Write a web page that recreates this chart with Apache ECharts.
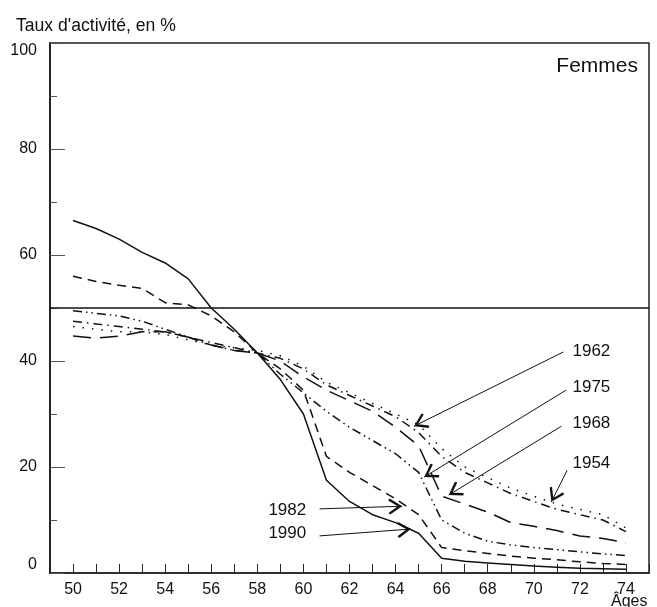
<!DOCTYPE html>
<html>
<head>
<meta charset="utf-8">
<script src="https://cdn.jsdelivr.net/npm/echarts@6/dist/echarts.min.js"></script>
<style>
html,body{margin:0;padding:0;background:#fff;}
#chart{width:657px;height:607px;}
</style>
</head>
<body>
<div id="chart"></div>
<script>
// ---- data ----
var ages = [50,51,52,53,54,55,56,57,58,59,60,61,62,63,64,65,66,67,68,69,70,71,72,73,74];
var y1954 = [46.5,46,45.5,45.5,45,44,43,42.5,42,41,39,36,34,32,30,28,23.5,20,18,16,14.5,13,12,11,8.5];
var y1962 = [47.5,47,46.5,46,45.5,44.5,43.5,42.5,41.5,40.5,38.5,35.5,33.5,31.5,29.5,26.5,22,19,17,15,13.5,12,11,10,7.8];
var y1968 = [44.7,44.3,44.7,45.5,45.5,44.5,43,42,41.5,40,37,34.5,32.5,30.5,27.5,24,14.5,13,11.5,9.5,8.8,8,7,6.5,5.7];
var y1975 = [49.5,49,48.5,47.5,46,44.5,43,42,41.5,37.5,34,30.5,27.5,25,22.5,19,10,7.5,6,5.3,4.8,4.4,4,3.6,3.3];
var y1982 = [56,55,54.3,53.7,51,50.6,48.5,45.5,41.5,38.5,34.5,22,19,16.5,14,11,4.8,4.2,3.7,3.2,2.8,2.5,2.1,1.8,1.6];
var y1990 = [66.5,65,63,60.5,58.5,55.5,50,46,41.5,36.5,30,17.5,13.5,11,9.5,7.5,2.8,2.2,1.9,1.6,1.3,1.1,0.9,0.8,0.7];
var referenceLine = 50;
var xTicks = [50,52,54,56,58,60,62,64,66,68,70,72,74];
var yTicks = [0,20,40,60,80,100];
// annotation labels, text anchor (age, %), arrow start and arrow tip (age, %)
var annoNames = ['1962','1975','1968','1954','1982','1990'];
var annoText  = [[72.5,41.9],[72.5,35.1],[72.5,28.3],[72.5,20.75],[59.3,11.9],[59.3,7.5]];
var annoFrom  = [[71.28,41.7],[71.4,34.5],[71.2,27.7],[71.45,19.4],[60.7,12.1],[60.7,7.0]];
var annoTo    = [[64.8,27.7],[65.24,18.1],[66.3,14.7],[70.76,13.4],[64.29,12.6],[64.67,8.3]];

var FONT = '"Liberation Sans", Arial, Helvetica, sans-serif';
var INK = '#111';

function pairs(ys){ return ages.map(function(a,i){ return [a, ys[i]]; }); }

var seriesDefs = [
  {name:'1954', data:y1954, type:[1.5,8]},
  {name:'1962', data:y1962, type:[9,5,1.5,5]},
  {name:'1968', data:y1968, type:[18,9]},
  {name:'1975', data:y1975, type:[9,4,1.5,4,1.5,4]},
  {name:'1982', data:y1982, type:[9,6]},
  {name:'1990', data:y1990, type:'solid'}
];

var chevron = 'path://M5,-10 L5,-10 M5,0 L10,8.6 L8.9,9.8 L5,3.0 L1.1,9.8 L0,8.6 Z';

var series = seriesDefs.map(function(s){
  return {
    name:s.name, type:'line', data:pairs(s.data), showSymbol:false, symbol:'none',
    silent:true, animation:false,
    lineStyle:{color:INK, width:1.5, type:s.type}
  };
});

series[0].markLine = {
  silent:true, symbol:['none','none'], label:{show:false},
  lineStyle:{color:INK, width:1.5, type:'solid'},
  data:[{yAxis:referenceLine}]
};

series.push({
  type:'line', data:[], silent:true, animation:false,
  markLine:{
    silent:true, animation:false,
    symbol:['none', chevron], symbolSize:[16,28],
    label:{show:false},
    itemStyle:{color:INK},
    lineStyle:{color:INK, width:1, type:'solid'},
    data: annoNames.map(function(n,i){ return [{coord:annoFrom[i]},{coord:annoTo[i]}]; })
  }
});

var chart = echarts.init(document.getElementById('chart'), null, {renderer:'canvas'});
chart.setOption({
  animation:false,
  backgroundColor:'#fff',
  title:[
    {text:"Taux d'activité, en %", left:11, top:12, textStyle:{fontSize:17.6, fontWeight:'normal', color:INK, fontFamily:FONT}},
    {text:'Femmes', right:14, top:51, textStyle:{fontSize:21, fontWeight:'normal', color:INK, fontFamily:FONT}},
    {text:'Âges', left:606, top:589, textStyle:{fontSize:16, fontWeight:'normal', color:INK, fontFamily:FONT}}
  ],
  grid:{left:50, right:8, top:43, bottom:34, show:true, borderColor:'#222', borderWidth:1.5, backgroundColor:'transparent'},
  xAxis:{
    type:'value', min:49, max:75, interval:1,
    axisLine:{show:true, onZero:false, lineStyle:{color:'#222', width:1.5}},
    axisTick:{show:true, inside:true, length:9, lineStyle:{color:'#222', width:1}},
    axisLabel:{color:INK, fontSize:16, fontFamily:FONT, margin:9,
      formatter:function(v){ return xTicks.indexOf(v) >= 0 ? String(v) : ''; }},
    splitLine:{show:false}
  },
  yAxis:{
    type:'value', min:0, max:100, interval:20,
    axisLine:{show:true, lineStyle:{color:'#222', width:2}},
    axisTick:{show:true, inside:true, length:15, lineStyle:{color:'#555', width:1}},
    minorTick:{show:true, splitNumber:2, length:7, lineStyle:{color:'#555', width:1}},
    axisLabel:{color:INK, fontSize:16, fontFamily:FONT, margin:13,
      verticalAlignMinLabel:'bottom', verticalAlignMaxLabel:'top',
      formatter:function(v){ return yTicks.indexOf(v) >= 0 ? String(v) : ''; }},
    splitLine:{show:false}
  },
  series:series
});

// annotation texts placed through the chart's own coordinate conversion
var texts = annoNames.map(function(n,i){
  var p = chart.convertToPixel({gridIndex:0}, annoText[i]);
  return {type:'text', x:p[0], y:p[1], silent:true,
    style:{text:n, fill:INK, font:'17px ' + FONT, align:'center', verticalAlign:'middle'}};
});
chart.setOption({graphic:texts});
</script>
</body>
</html>
